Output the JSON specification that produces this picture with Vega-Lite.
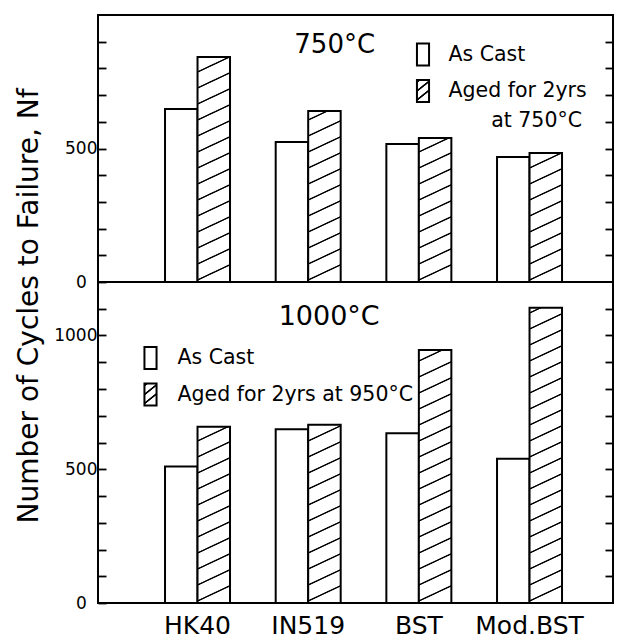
{
  "$schema": "https://vega.github.io/schema/vega-lite/v6.json",
  "background": "white",
  "padding": {"left": 13, "top": 14, "right": 4, "bottom": 0},
  "bounds": "flush",
  "spacing": 0,
  "params": [
    {
      "name": "hatch",
      "value": [
        {"offset": 0.0025, "color": "#ffffff"}, {"offset": 0.005, "color": "#000000"}, {"offset": 0.0075, "color": "#000000"}, {"offset": 0.01, "color": "#ffffff"},
        {"offset": 0.0525, "color": "#ffffff"}, {"offset": 0.055, "color": "#000000"}, {"offset": 0.0575, "color": "#000000"}, {"offset": 0.06, "color": "#ffffff"},
        {"offset": 0.1025, "color": "#ffffff"}, {"offset": 0.105, "color": "#000000"}, {"offset": 0.1075, "color": "#000000"}, {"offset": 0.11, "color": "#ffffff"},
        {"offset": 0.1525, "color": "#ffffff"}, {"offset": 0.155, "color": "#000000"}, {"offset": 0.1575, "color": "#000000"}, {"offset": 0.16, "color": "#ffffff"},
        {"offset": 0.2025, "color": "#ffffff"}, {"offset": 0.205, "color": "#000000"}, {"offset": 0.2075, "color": "#000000"}, {"offset": 0.21, "color": "#ffffff"},
        {"offset": 0.2525, "color": "#ffffff"}, {"offset": 0.255, "color": "#000000"}, {"offset": 0.2575, "color": "#000000"}, {"offset": 0.26, "color": "#ffffff"},
        {"offset": 0.3025, "color": "#ffffff"}, {"offset": 0.305, "color": "#000000"}, {"offset": 0.3075, "color": "#000000"}, {"offset": 0.31, "color": "#ffffff"},
        {"offset": 0.3525, "color": "#ffffff"}, {"offset": 0.355, "color": "#000000"}, {"offset": 0.3575, "color": "#000000"}, {"offset": 0.36, "color": "#ffffff"},
        {"offset": 0.4025, "color": "#ffffff"}, {"offset": 0.405, "color": "#000000"}, {"offset": 0.4075, "color": "#000000"}, {"offset": 0.41, "color": "#ffffff"},
        {"offset": 0.4525, "color": "#ffffff"}, {"offset": 0.455, "color": "#000000"}, {"offset": 0.4575, "color": "#000000"}, {"offset": 0.46, "color": "#ffffff"},
        {"offset": 0.5025, "color": "#ffffff"}, {"offset": 0.505, "color": "#000000"}, {"offset": 0.5075, "color": "#000000"}, {"offset": 0.51, "color": "#ffffff"},
        {"offset": 0.5525, "color": "#ffffff"}, {"offset": 0.555, "color": "#000000"}, {"offset": 0.5575, "color": "#000000"}, {"offset": 0.56, "color": "#ffffff"},
        {"offset": 0.6025, "color": "#ffffff"}, {"offset": 0.605, "color": "#000000"}, {"offset": 0.6075, "color": "#000000"}, {"offset": 0.61, "color": "#ffffff"},
        {"offset": 0.6525, "color": "#ffffff"}, {"offset": 0.655, "color": "#000000"}, {"offset": 0.6575, "color": "#000000"}, {"offset": 0.66, "color": "#ffffff"},
        {"offset": 0.7025, "color": "#ffffff"}, {"offset": 0.705, "color": "#000000"}, {"offset": 0.7075, "color": "#000000"}, {"offset": 0.71, "color": "#ffffff"},
        {"offset": 0.7525, "color": "#ffffff"}, {"offset": 0.755, "color": "#000000"}, {"offset": 0.7575, "color": "#000000"}, {"offset": 0.76, "color": "#ffffff"},
        {"offset": 0.8025, "color": "#ffffff"}, {"offset": 0.805, "color": "#000000"}, {"offset": 0.8075, "color": "#000000"}, {"offset": 0.81, "color": "#ffffff"},
        {"offset": 0.8525, "color": "#ffffff"}, {"offset": 0.855, "color": "#000000"}, {"offset": 0.8575, "color": "#000000"}, {"offset": 0.86, "color": "#ffffff"},
        {"offset": 0.9025, "color": "#ffffff"}, {"offset": 0.905, "color": "#000000"}, {"offset": 0.9075, "color": "#000000"}, {"offset": 0.91, "color": "#ffffff"},
        {"offset": 0.9525, "color": "#ffffff"}, {"offset": 0.955, "color": "#000000"}, {"offset": 0.9575, "color": "#000000"}, {"offset": 0.96, "color": "#ffffff"}
      ]
    },
    {
      "name": "hatchL",
      "value": [
        {"offset": 0.0025, "color": "#ffffff"}, {"offset": 0.0065, "color": "#000000"}, {"offset": 0.0135, "color": "#000000"}, {"offset": 0.0175, "color": "#ffffff"},
        {"offset": 0.0475, "color": "#ffffff"}, {"offset": 0.0515, "color": "#000000"}, {"offset": 0.0585, "color": "#000000"}, {"offset": 0.0625, "color": "#ffffff"},
        {"offset": 0.0925, "color": "#ffffff"}, {"offset": 0.0965, "color": "#000000"}, {"offset": 0.1035, "color": "#000000"}, {"offset": 0.1075, "color": "#ffffff"}
      ]
    }
  ],
  "config": {
    "view": {"stroke": "black", "strokeWidth": 2},
    "font": "DejaVu Sans",
    "axis": {
      "labelFont": "DejaVu Sans",
      "labelColor": "black",
      "tickColor": "black",
      "titleColor": "black",
      "titleFont": "DejaVu Sans",
      "titleFontWeight": "normal",
      "grid": false,
      "domain": false
    },
    "legend": {
      "orient": "none",
      "title": null,
      "padding": 0,
      "symbolType": "M-0.55,-1H0.55V1H-0.55Z",
      "symbolSize": 484,
      "symbolStrokeWidth": 2,
      "symbolOpacity": 1,
      "labelFont": "DejaVu Sans",
      "labelFontSize": 20.5,
      "labelColor": "black",
      "labelLimit": 500,
      "rowPadding": 6.5
    }
  },
  "resolve": {
    "scale": {"stroke": "independent"},
    "legend": {"stroke": "independent"}
  },
  "vconcat": [
    {
      "width": 515,
      "height": 267,
      "data": {
        "values": [
          {"alloy": "HK40", "cond": "As Cast", "cycles": 648},
          {"alloy": "HK40", "cond": "Aged", "cycles": 843},
          {"alloy": "IN519", "cond": "As Cast", "cycles": 524},
          {"alloy": "IN519", "cond": "Aged", "cycles": 640},
          {"alloy": "BST", "cond": "As Cast", "cycles": 517},
          {"alloy": "BST", "cond": "Aged", "cycles": 539},
          {"alloy": "Mod.BST", "cond": "As Cast", "cycles": 468},
          {"alloy": "Mod.BST", "cond": "Aged", "cycles": 483}
        ]
      },
      "layer": [
        {
          "mark": {
            "type": "bar",
            "strokeWidth": 2,
            "strokeJoin": "miter",
            "fill": {"expr": "datum.cond === 'Aged' ? {gradient: 'linear', x1: 0, y1: 1, x2: -4888/(233.33+pow(datum.cycles*0.267,2)), y2: 1-85.44*datum.cycles/(233.33+pow(datum.cycles*0.267,2)), stops: hatch} : datum.value === 'Aged' ? {gradient: 'linear', x1: 0, y1: 1, x2: -3.351, y2: -6.616, stops: hatchL} : 'white'"}
          },
          "encoding": {
            "x": {
              "field": "alloy",
              "type": "nominal",
              "scale": {"domain": ["HK40", "IN519", "BST", "Mod.BST"], "paddingInner": 0.4127, "paddingOuter": 0.5331, "align": 0.568},
              "axis": null
            },
            "xOffset": {
              "field": "cond",
              "type": "nominal",
              "scale": {"domain": ["As Cast", "Aged"], "paddingInner": 0, "paddingOuter": 0}
            },
            "y": {
              "field": "cycles",
              "type": "quantitative",
              "scale": {"domain": [0, 1000], "nice": false},
              "axis": {
                "orient": "left",
                "values": [0, 100, 200, 300, 400, 500, 600, 700, 800, 900],
                "labelExpr": "datum.value === 500 ? '500' : datum.value === 0 ? '0\u00a0\u00a0\u200b' : ''",
                "tickSize": -8,
                "labelPadding": 9,
                "tickWidth": 1.8,
                "labelFontSize": 17,
                "labelOverlap": false,
                "title": null
              }
            },
            "stroke": {
              "field": "cond",
              "type": "nominal",
              "scale": {"domain": ["As Cast", "Aged"], "range": ["black", "black"]},
              "legend": {
                "legendX": 313,
                "legendY": 27.5,
                "labelOffset": 13.5,
                "labelExpr": "datum.value === 'Aged' ? 'Aged for 2yrs' : datum.label"
              }
            }
          }
        },
        {
          "data": {"values": [{"label": "at 750°C"}]},
          "mark": {"type": "text", "font": "DejaVu Sans", "fontSize": 20.5, "align": "right", "baseline": "alphabetic", "dx": 52.5, "fill": "black"},
          "encoding": {
            "x": {"datum": "Mod.BST", "type": "nominal", "axis": null},
            "y": {"datum": 580, "type": "quantitative", "axis": null},
            "text": {"field": "label"}
          }
        },
        {
          "data": {"values": [{"label": "750°C"}]},
          "mark": {"type": "text", "font": "DejaVu Sans", "fontSize": 26, "align": "center", "baseline": "alphabetic", "dx": 26.5, "fill": "black"},
          "encoding": {
            "x": {"datum": "IN519", "type": "nominal", "axis": null},
            "y": {
              "datum": 858,
              "type": "quantitative",
              "scale": {"domain": [0, 1000], "nice": false},
              "axis": {
                "orient": "right",
                "values": [100, 200, 300, 400, 500, 600, 700, 800, 900],
                "labels": false,
                "tickSize": -8,
                "tickWidth": 1.8,
                "title": null
              }
            },
            "text": {"field": "label"}
          }
        }
      ],
      "resolve": {"axis": {"y": "independent"}}
    },
    {
      "width": 515,
      "height": 321,
      "data": {
        "values": [
          {"alloy": "HK40", "cond": "As Cast", "cycles": 510},
          {"alloy": "HK40", "cond": "Aged", "cycles": 659},
          {"alloy": "IN519", "cond": "As Cast", "cycles": 650},
          {"alloy": "IN519", "cond": "Aged", "cycles": 666},
          {"alloy": "BST", "cond": "As Cast", "cycles": 635},
          {"alloy": "BST", "cond": "Aged", "cycles": 946},
          {"alloy": "Mod.BST", "cond": "As Cast", "cycles": 539},
          {"alloy": "Mod.BST", "cond": "Aged", "cycles": 1104}
        ]
      },
      "layer": [
        {
          "mark": {
            "type": "bar",
            "strokeWidth": 2,
            "strokeJoin": "miter",
            "fill": {"expr": "datum.cond === 'Aged' ? {gradient: 'linear', x1: 0, y1: 1, x2: -4888/(233.33+pow(datum.cycles*0.2675,2)), y2: 1-85.6*datum.cycles/(233.33+pow(datum.cycles*0.2675,2)), stops: hatch} : datum.value === 'Aged' ? {gradient: 'linear', x1: 0, y1: 1, x2: -3.351, y2: -6.616, stops: hatchL} : 'white'"}
          },
          "encoding": {
            "x": {
              "field": "alloy",
              "type": "nominal",
              "scale": {"domain": ["HK40", "IN519", "BST", "Mod.BST"], "paddingInner": 0.4127, "paddingOuter": 0.5331, "align": 0.568},
              "axis": {
                "orient": "bottom",
                "labelFontSize": 25,
                "labelPadding": 10.5,
                "labelAngle": 0,
                "ticks": false,
                "title": null
              }
            },
            "xOffset": {
              "field": "cond",
              "type": "nominal",
              "scale": {"domain": ["As Cast", "Aged"], "paddingInner": 0, "paddingOuter": 0}
            },
            "y": {
              "field": "cycles",
              "type": "quantitative",
              "scale": {"domain": [0, 1200], "nice": false},
              "axis": {
                "orient": "left",
                "values": [0, 100, 200, 300, 400, 500, 600, 700, 800, 900, 1000, 1100],
                "labelExpr": "datum.value === 500 ? '500' : datum.value === 1000 ? '1000' : datum.value === 0 ? '0\u00a0\u00a0\u200b' : ''",
                "tickSize": -8,
                "labelPadding": 9,
                "tickWidth": 1.8,
                "labelFontSize": 17,
                "labelOverlap": false,
                "title": "Number of Cycles to Failure, Nf",
                "titleFontSize": 28,
                "titleX": -61,
                "titleY": 23.5,
                "titleAngle": 270,
                "titleBaseline": "alphabetic",
                "titleAlign": "center",
                "titlePadding": 0
              }
            },
            "stroke": {
              "field": "cond",
              "type": "nominal",
              "scale": {"domain": ["As Cast", "Aged"], "range": ["black", "black"]},
              "legend": {
                "legendX": 40.5,
                "legendY": 64,
                "labelOffset": 15,
                "labelExpr": "datum.value === 'Aged' ? 'Aged for 2yrs at 950°C' : datum.label"
              }
            }
          }
        },
        {
          "data": {"values": [{"label": "1000°C"}]},
          "mark": {"type": "text", "font": "DejaVu Sans", "fontSize": 27, "align": "center", "baseline": "alphabetic", "dx": 21, "fill": "black"},
          "encoding": {
            "x": {
              "datum": "IN519",
              "type": "nominal",
              "axis": {
                "orient": "bottom",
                "labelFontSize": 25,
                "labelPadding": 10.5,
                "labelAngle": 0,
                "ticks": false,
                "title": null
              }
            },
            "y": {
              "datum": 1040,
              "type": "quantitative",
              "scale": {"domain": [0, 1200], "nice": false},
              "axis": {
                "orient": "right",
                "values": [100, 200, 300, 400, 500, 600, 700, 800, 900, 1000, 1100],
                "labels": false,
                "tickSize": -8,
                "tickWidth": 1.8,
                "title": null
              }
            },
            "text": {"field": "label"}
          }
        }
      ],
      "resolve": {"axis": {"y": "independent"}}
    }
  ]
}
